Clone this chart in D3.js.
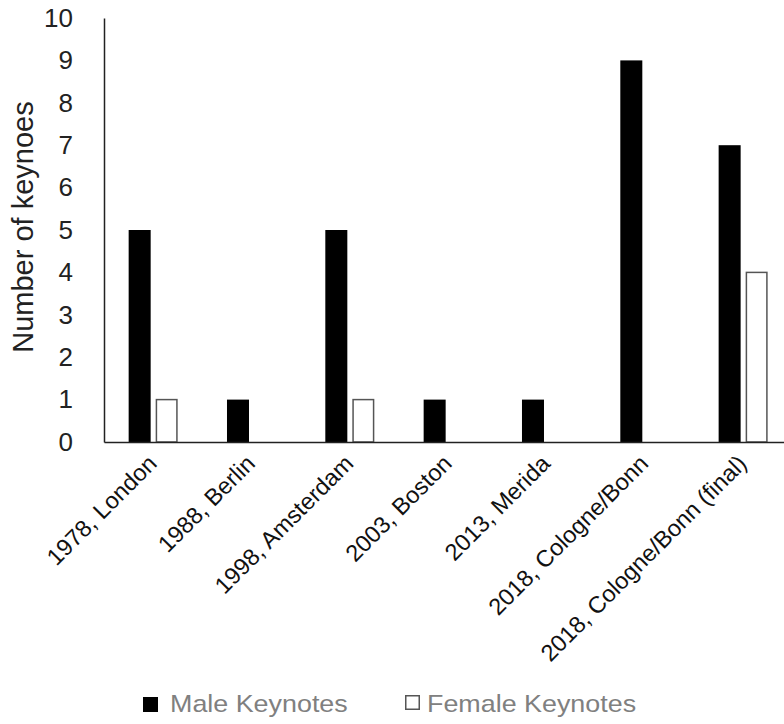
<!DOCTYPE html>
<html>
<head>
<meta charset="utf-8">
<script src="https://cdn.jsdelivr.net/npm/d3@7"></script>
<style>
  html, body { margin: 0; padding: 0; background: #fff; }
  svg { display: block; font-family: "Liberation Sans", Arial, sans-serif; }
</style>
</head>
<body>
<svg id="chart" width="784" height="724"></svg>
<script>
const categories = ["1978, London", "1988, Berlin", "1998, Amsterdam", "2003, Boston", "2013, Merida", "2018, Cologne/Bonn", "2018, Cologne/Bonn (final)"];
const seriesNames = ["Male Keynotes", "Female Keynotes"];
const maleValues = [5, 1, 5, 1, 1, 9, 7];
const femaleValues = [1, 0, 1, 0, 0, 0, 4];
const yTicks = [0, 1, 2, 3, 4, 5, 6, 7, 8, 9, 10];
const yTitle = "Number of keynoes";

const svg = d3.select("#chart");
const plotLeft = 104, plotTop = 18, plotBottom = 442;
const step = 98.33;
const plotRight = plotLeft + step * categories.length;

const data = categories.map((c, i) => ({ cat: c, values: [maleValues[i], femaleValues[i]] }));

const x0 = d3.scaleBand().domain(categories).range([plotLeft, plotRight]).padding(0);
const x1 = d3.scaleBand().domain(seriesNames).range([0, x0.bandwidth()]).paddingInner(0.185).paddingOuter(0.913);
const y = d3.scaleLinear().domain([0, 10]).range([plotBottom, plotTop]);

const fills = ["#000000", "#ffffff"];

// bars
const groups = svg.append("g").selectAll("g").data(data).join("g")
  .attr("transform", d => `translate(${x0(d.cat)},0)`);
groups.selectAll("rect")
  .data(d => d.values.map((v, k) => ({ v, k })).filter(e => e.v > 0))
  .join("rect")
  .attr("x", e => x1(seriesNames[e.k]) + (e.k === 1 ? 0.75 : 0))
  .attr("width", e => x1.bandwidth() - (e.k === 1 ? 1.5 : 0))
  .attr("y", e => y(e.v))
  .attr("height", e => y(0) - y(e.v))
  .attr("fill", e => fills[e.k])
  .attr("stroke", e => e.k === 1 ? "#555" : "none")
  .attr("stroke-width", 1.5);

// y axis
const yAxis = d3.axisLeft(y).tickValues(yTicks).tickSize(0).tickPadding(31).tickFormat(d3.format("d"));
const gy = svg.append("g").attr("transform", `translate(${plotLeft},0)`).call(yAxis);
gy.select(".domain").attr("stroke", "#222").attr("stroke-width", 1.5);
gy.selectAll(".tick text").attr("font-size", 26).attr("fill", "#222").attr("font-family", "Liberation Sans, Arial, sans-serif");

// x axis
const xAxis = d3.axisBottom(x0).tickSize(0).tickPadding(0);
const gx = svg.append("g").attr("transform", `translate(0,${plotBottom})`).call(xAxis);
gx.select(".domain").attr("stroke", "#222").attr("stroke-width", 1.5);
gx.selectAll(".tick text")
  .attr("font-size", 23.5)
  .attr("fill", "#111")
  .attr("font-family", "Liberation Sans, Arial, sans-serif")
  .attr("text-anchor", "end")
  .attr("y", 0).attr("dy", 0)
  .attr("transform", "translate(5,23) rotate(-45)");

// y title
svg.append("text")
  .attr("transform", `translate(33,227) rotate(-90)`)
  .attr("text-anchor", "middle")
  .attr("font-size", 29)
  .attr("fill", "#222")
  .text(yTitle);

// legend
const legendX = [143, 405];
const leg = svg.append("g").selectAll("g").data(seriesNames).join("g")
  .attr("transform", (d, i) => `translate(${legendX[i]},0)`);
leg.append("rect")
  .attr("x", (d, i) => i === 1 ? 0.75 : 0)
  .attr("y", (d, i) => i === 1 ? 695.75 : 697)
  .attr("width", (d, i) => i === 1 ? 13.5 : 15)
  .attr("height", (d, i) => i === 1 ? 13.5 : 15)
  .attr("fill", (d, i) => fills[i])
  .attr("stroke", (d, i) => i === 1 ? "#555" : "none")
  .attr("stroke-width", 1.5);
leg.append("text")
  .attr("transform", "translate(0,712) scale(1.12,1)")
  .attr("x", (d, i) => (i === 0 ? 27 : 22) / 1.12)
  .attr("y", 0)
  .attr("font-size", 24)
  .attr("fill", "#808080")
  .text(d => d);
</script>
</body>
</html>
